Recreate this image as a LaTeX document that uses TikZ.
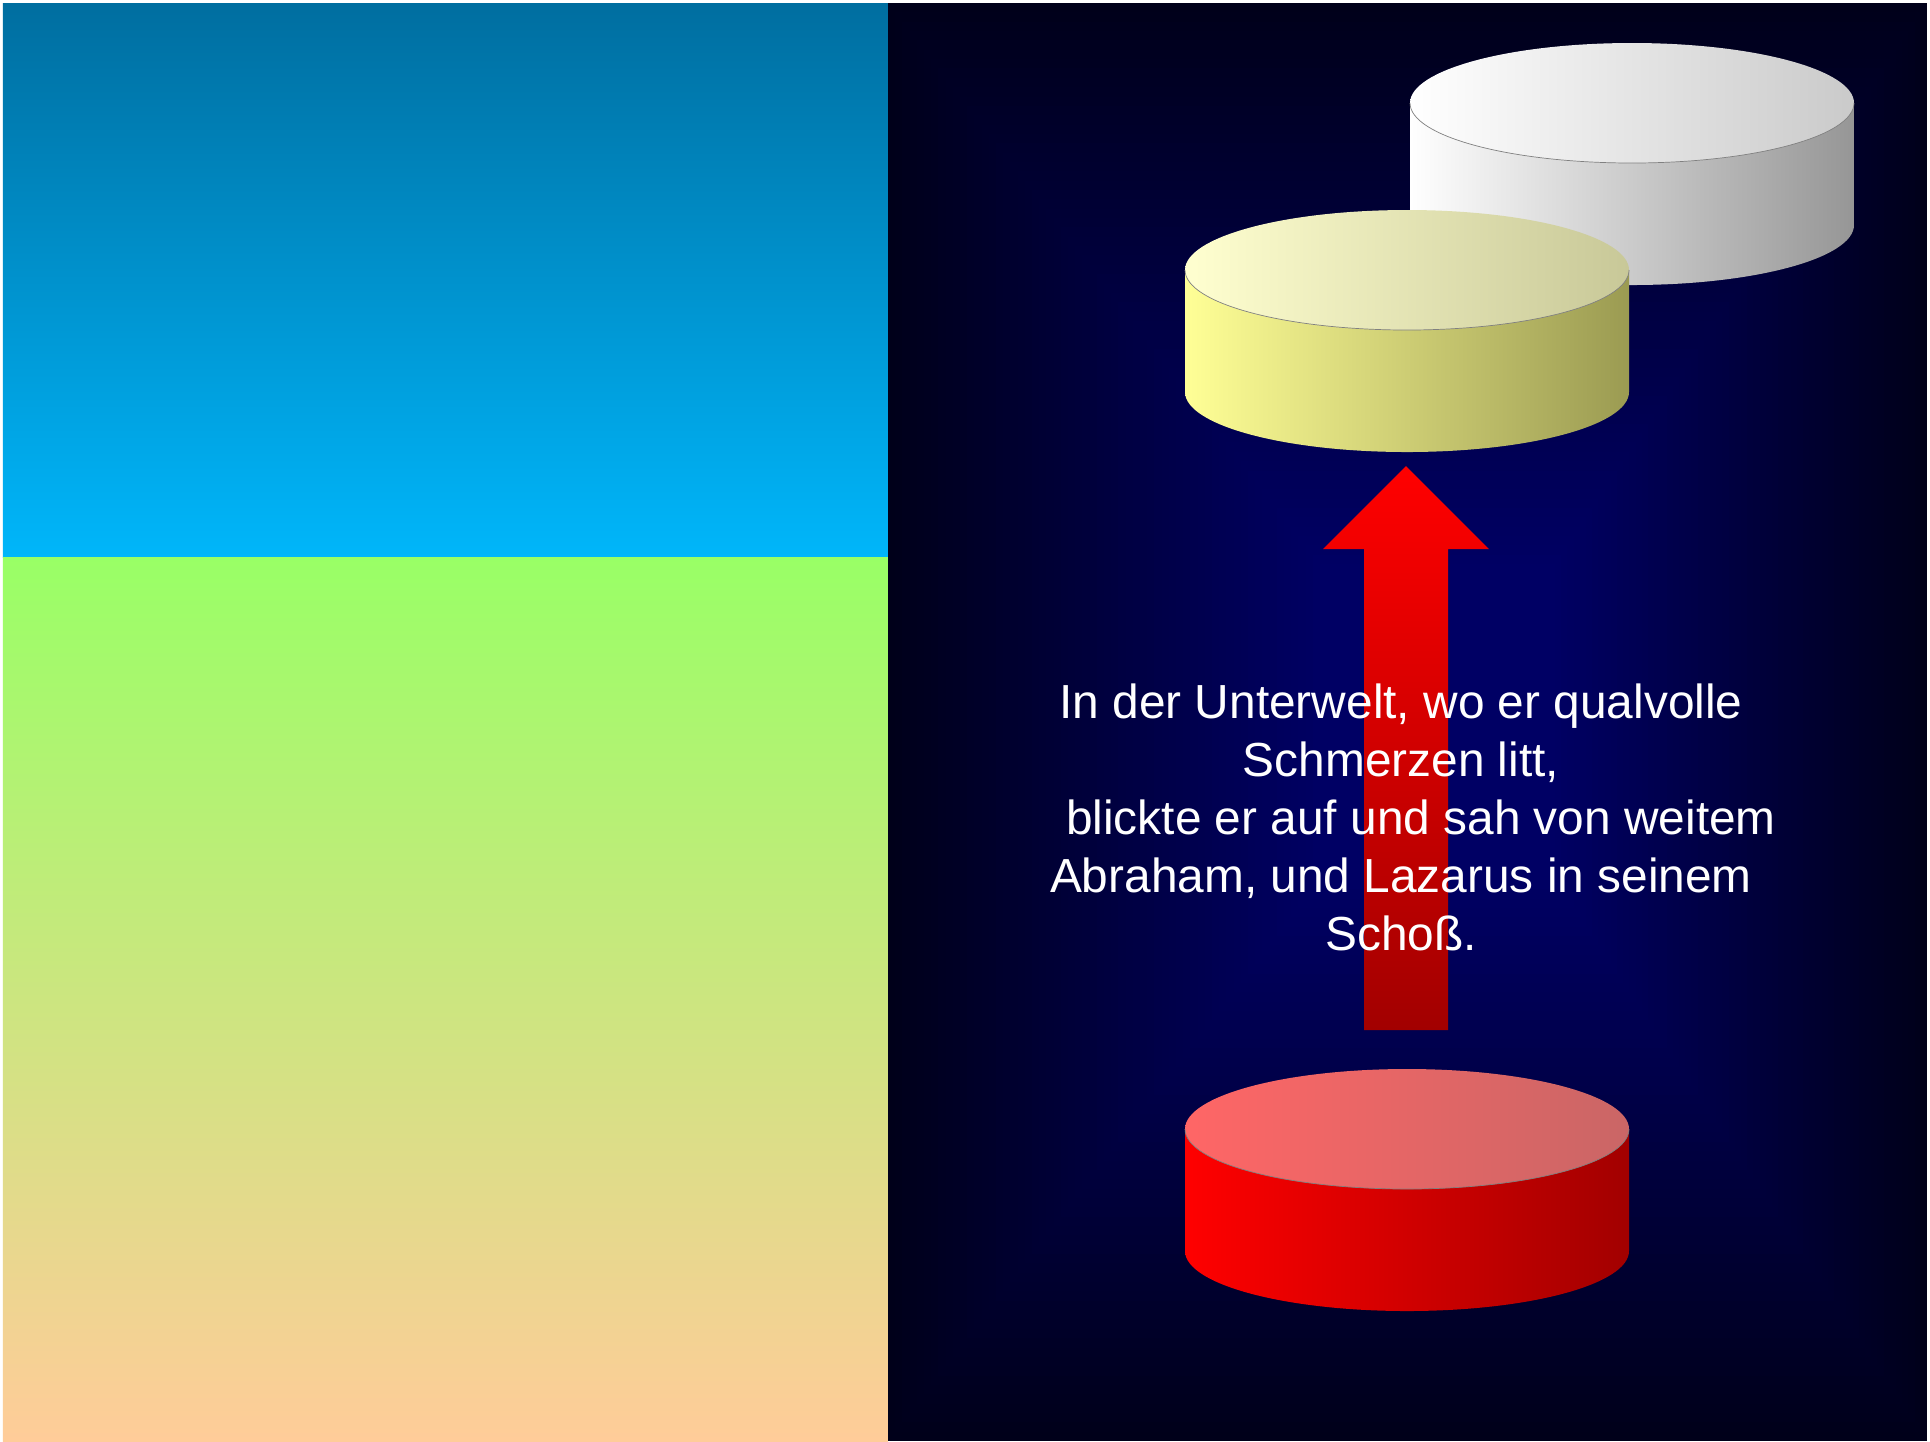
\documentclass[tikz,border=0pt]{standalone}
\usepackage{fontspec}
\setmainfont{Liberation Sans}
\usetikzlibrary{calc}

\definecolor{skytop}{RGB}{0,110,160}
\definecolor{skybot}{RGB}{0,182,250}
\definecolor{grasstop}{RGB}{153,255,102}
\definecolor{sandbot}{RGB}{255,204,153}
\definecolor{nightmid}{RGB}{0,0,100}
\definecolor{nightout}{RGB}{0,0,26}
\definecolor{paleside}{RGB}{150,150,150}
\definecolor{paletop}{RGB}{202,202,202}
\definecolor{goldleft}{RGB}{255,255,150}
\definecolor{goldright}{RGB}{155,155,82}
\definecolor{goldtopl}{RGB}{255,255,208}
\definecolor{goldtopr}{RGB}{200,200,152}
\definecolor{fireright}{RGB}{162,0,0}
\definecolor{firetopl}{RGB}{255,102,102}
\definecolor{firetopr}{RGB}{202,102,102}

% disc: name, x, y of top centre, side colours, top colours
\newcommand{\disc}[7]{%
  \coordinate (#1) at (#2,#3);
  \shade [left color=#4, right color=#5] ($(#1)+(-222,0)$) -- ++(0,122)
    arc [start angle=180, end angle=0, x radius=222, y radius=60] -- ($(#1)+(222,0)$) -- cycle;
  \shade [left color=#6, right color=#7] (#1) ellipse [x radius=222, y radius=60];
  \draw [gray, very thin] ($(#1)+(-222,0)$) arc [start angle=180, end angle=0, x radius=222, y radius=60];
}

\begin{document}
\begin{tikzpicture}[x=0.01cm, y=-0.01cm]
    \useasboundingbox (0,0) rectangle (1930,1441);
    \fill [white] (0,0) rectangle (1930,1441);
    % Left half: sky and ground
    \shade [top color=skytop, bottom color=skybot] (3,3) rectangle (888,557);
    \shade [top color=grasstop, bottom color=sandbot] (3,557) rectangle (888,1441);
    % Right half: night, lighter towards the middle
    \foreach \i in {0,...,60} {
        \pgfmathsetmacro{\t}{\i/60}
        \pgfmathsetmacro{\p}{100*\t}
        \fill [nightmid!\p!nightout] (888+432*\t, 3+561*\t) rectangle (1927-372*\t, 1441-561*\t);
    }
    % Discs
    \disc{heaven}{1632}{103}{white}{paleside}{white}{paletop}
    \disc{bosom}{1407}{270}{goldleft}{goldright}{goldtopl}{goldtopr}
    \disc{hades}{1407}{1129}{red}{fireright}{firetopl}{firetopr}
    % Arrow up
    \coordinate (tip) at (1406,466);
    \coordinate (tail) at (1406,1030);
    \shade [top color=red, bottom color=fireright] (tip) -- ($(tip)+(83,83)$) -- ($(tip)+(42,83)$)
      -- ($(tail)+(42,0)$) -- ($(tail)+(-42,0)$) -- ($(tip)+(-42,83)$) -- ($(tip)+(-83,83)$) -- cycle;
    % Text
    \node (verse) at (1401,817) [white, align=center, font=\fontsize{13.6}{16.5}\selectfont]
      {In der Unterwelt, wo er qualvolle\\Schmerzen litt,\\\hspace{0.4cm}blickte er auf und sah von weitem\\Abraham, und Lazarus in seinem\\Schoß.};
\end{tikzpicture}
\end{document}
